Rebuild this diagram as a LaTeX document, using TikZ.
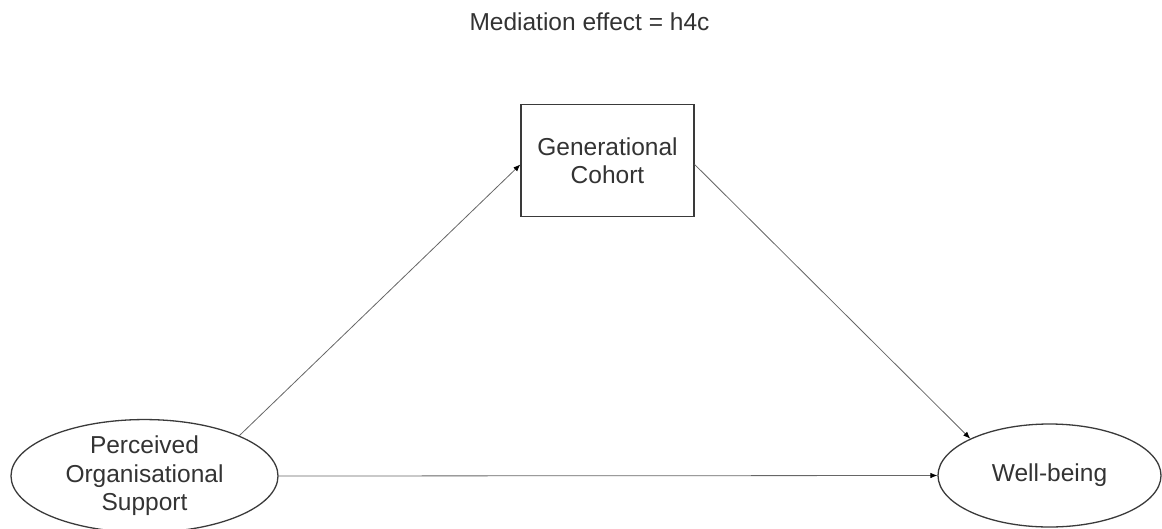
\documentclass[tikz,border=0pt]{standalone}
\usepackage{fontspec}
\setmainfont{Liberation Sans}
\usetikzlibrary{arrows.meta,shapes.geometric}
\definecolor{txt}{HTML}{333333}
\definecolor{edge}{HTML}{3A3A3A}
\definecolor{conn}{HTML}{666666}
\begin{document}
\begin{tikzpicture}[x=1pt,y=-1pt,
  lbl/.style={font=\fontsize{24.5}{28.5}\selectfont, text=txt, align=center},
  latent/.style={lbl, draw=edge, line width=1.3pt, ellipse, inner sep=0pt},
  obs/.style={lbl, draw=edge, line width=1.3pt, rectangle, inner sep=0pt, minimum width=173pt, minimum height=112pt},
  conn/.style={draw=conn, line width=0.8pt, -{Latex[length=7pt,width=5.5pt,color=black]}}
]
\useasboundingbox (0,0) rectangle (1162,528);
\node[lbl, anchor=base] (T) at (589.5,30) {Mediation effect = h4c};
\node[obs] (G) at (607.5,160.5) {Generational\\Cohort};
\node[latent, minimum width=267pt, minimum height=103pt] (L) at (144.5,476) {Perceived\\Organisational\\Support};
\node[latent, minimum width=223pt, minimum height=103pt] (R) at (1049.5,475.5) {Well-being};
\draw[conn] (L.north east) -- ([yshift=-4pt]G.west);
\draw[conn] ([yshift=-4pt]G.east) -- (R.north west);
\draw[conn] (L.east) -- (R.west);
\end{tikzpicture}
\end{document}
